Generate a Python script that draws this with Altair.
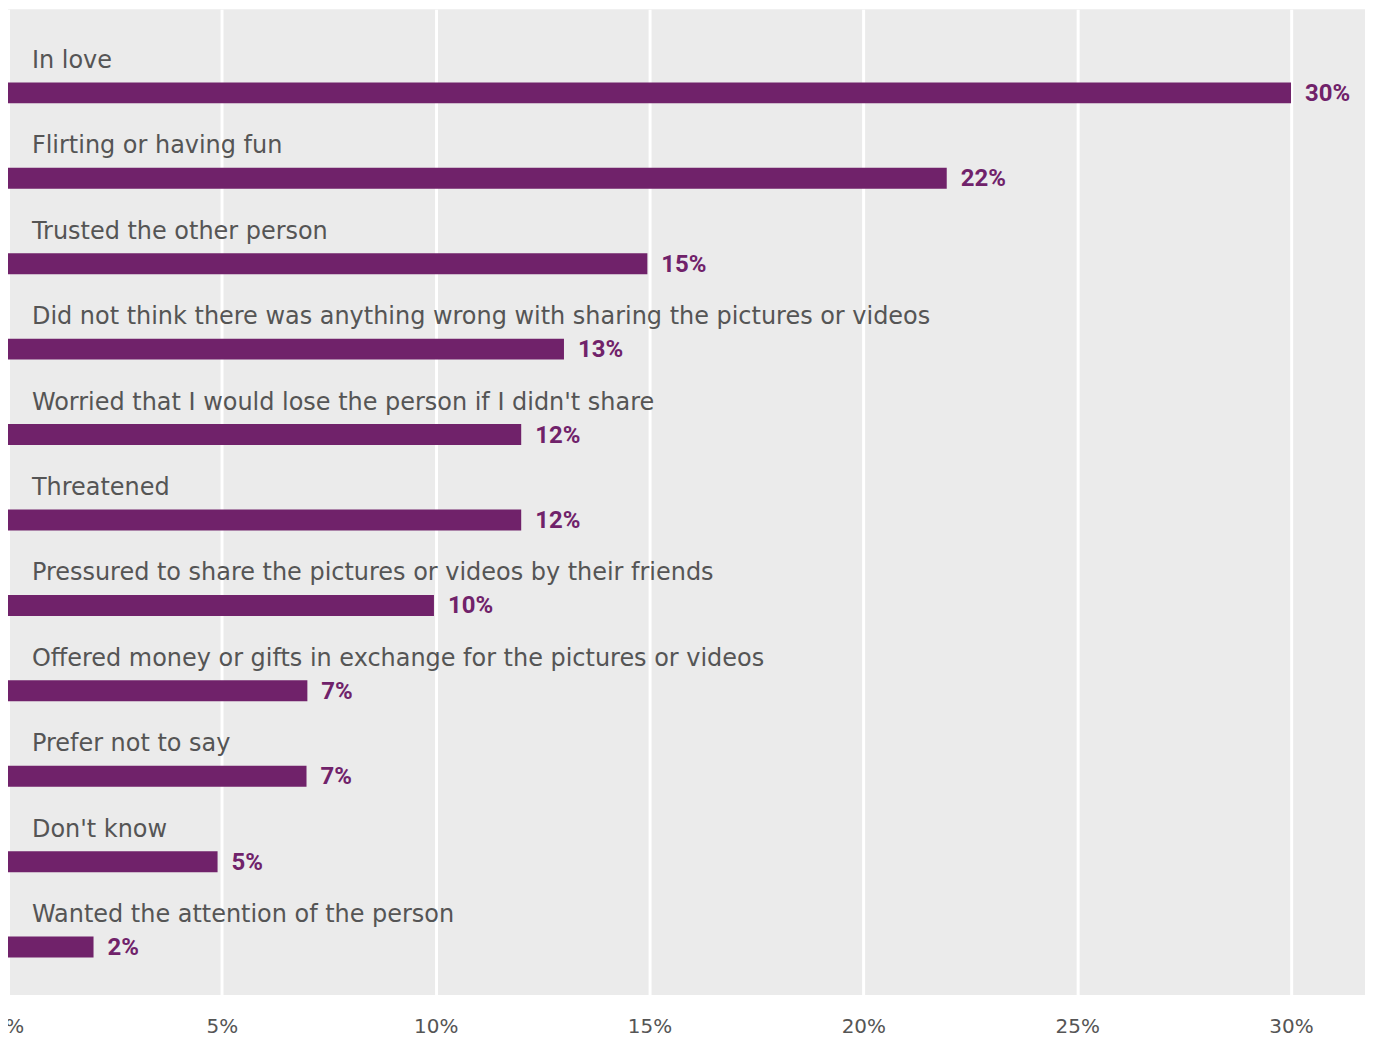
import altair as alt
import pandas as pd

categories = [
    "In love",
    "Flirting or having fun",
    "Trusted the other person",
    "Did not think there was anything wrong with sharing the pictures or videos",
    "Worried that I would lose the person if I didn't share",
    "Threatened",
    "Pressured to share the pictures or videos by their friends",
    "Offered money or gifts in exchange for the pictures or videos",
    "Prefer not to say",
    "Don't know",
    "Wanted the attention of the person",
]
values = [30.0, 21.95, 14.95, 13.0, 12.0, 12.0, 9.96, 7.0, 6.98, 4.9, 2.0]
value_labels = ["30%", "22%", "15%", "13%", "12%", "12%", "10%", "7%", "7%", "5%", "2%"]
x_ticks = [0, 5, 10, 15, 20, 25, 30]

df = pd.DataFrame({"cat": categories, "val": values, "lbl": value_labels})

purple = "#70226a"
ysc = alt.Scale(paddingInner=0.7547, paddingOuter=0.648, align=0.662)
yenc = alt.Y("cat:N", sort=categories, scale=ysc, axis=None)
xsc = alt.Scale(domain=[0, 31.73], nice=False)

bars = alt.Chart(df).mark_bar(color=purple).encode(
    x=alt.X(
        "val:Q",
        scale=xsc,
        axis=alt.Axis(
            values=x_ticks,
            labelExpr="datum.value + '%'",
            title=None,
            domain=False,
            ticks=False,
            grid=True,
            gridColor="white",
            gridWidth=3,
            labelFont="DejaVu Sans",
            labelFontSize=20,
            labelColor="#555555",
            labelPadding=22,
            labelBaseline="top",
            labelFlush=False,
            labelOverlap=False,
        ),
    ),
    y=yenc,
)

vals = alt.Chart(df).mark_text(
    align="left", baseline="middle", dx=14, dy=1,
    font="Roboto", fontSize=24, fontWeight="bold", color=purple,
).encode(x="val:Q", y=yenc, text="lbl:N")

cats = alt.Chart(df).mark_text(
    align="left", baseline="alphabetic", dx=24, dy=-25,
    font="DejaVu Sans", fontSize=24, color="#555555",
).encode(x=alt.datum(0), y=yenc, text="cat:N")

chart = alt.layer(bars, vals, cats).properties(
    width=1360, height=988,
    autosize=alt.AutoSizeParams(type="none"),
    padding={"left": 0, "top": 0, "right": 0, "bottom": 44},
    background="white",
).configure_view(fill="#ebebeb", stroke=None)

chart.save("out.html", embed_options={"renderer": "svg", "actions": False})
